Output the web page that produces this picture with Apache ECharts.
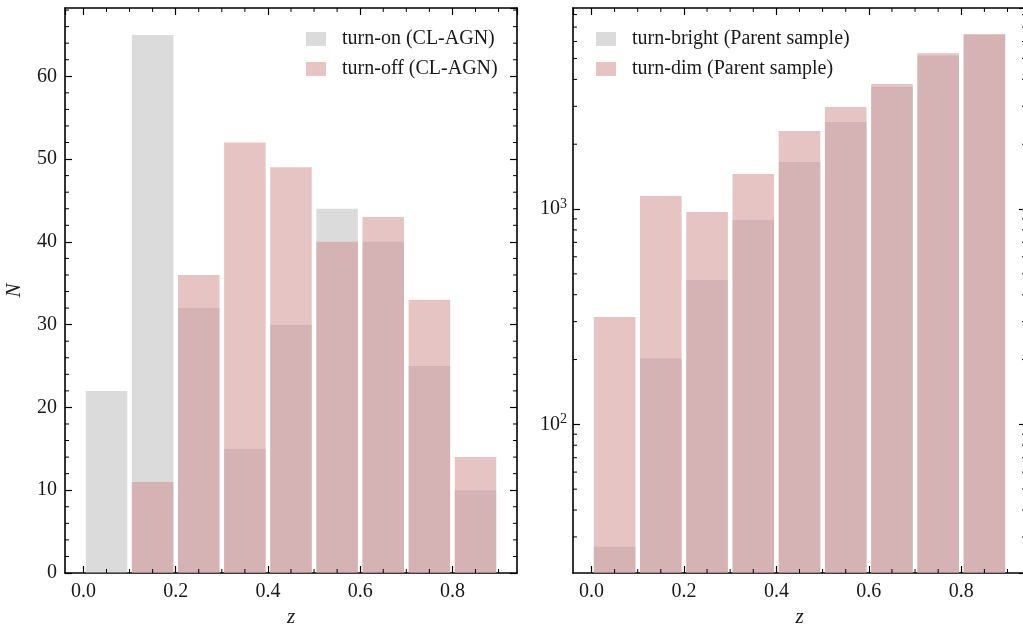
<!DOCTYPE html>
<html><head><meta charset="utf-8">
<script src="https://cdn.jsdelivr.net/npm/echarts@6/dist/echarts.min.js"></script>
<style>html,body{margin:0;padding:0;background:#fff}#c{width:1023px;height:626px}</style>
</head><body><div id="c"></div>
<script>
// ---- data ----
const zBinStart = [0.0, 0.1, 0.2, 0.3, 0.4, 0.5, 0.6, 0.7, 0.8];
const zBinWidth = 0.1;
const turnOnCL  = [22, 65, 32, 15, 30, 44, 40, 25, 10];
const turnOffCL = [0, 11, 36, 52, 49, 40, 43, 33, 14];
const turnBrightParent = [27, 203, 468, 889, 1652, 2535, 3700, 5150, 6430];
const turnDimParent    = [315, 1149, 968, 1454, 2303, 2978, 3807, 5286, 6503];
const xMinorTicks = [0.05,0.1,0.15,0.25,0.3,0.35,0.45,0.5,0.55,0.65,0.7,0.75,0.85,0.9];
const yMinorTicks = [2,4,6,8,12,14,16,18,22,24,26,28,32,34,36,38,42,44,46,48,52,54,56,58,62,64,66,68];
const logMinorTicks = [30,40,50,60,70,80,90,200,300,400,500,600,700,800,900,2000,3000,4000,5000,6000,7000,8000];
const xTickLabels = ['0.0','0.2','0.4','0.6','0.8'];
const names = ['turn-on (CL-AGN)','turn-off (CL-AGN)','turn-bright (Parent sample)','turn-dim (Parent sample)'];

const FONT = 'Liberation Serif';
const GRAY = '#b9b7b9', PINK = '#cd8989';
const RWIDTH = 0.9;

function hist(starts, vals){ return starts.map((s,i)=>[s, s+zBinWidth, vals[i]]); }

function barRender(params, api){
  const x0 = api.value(0), x1 = api.value(1), v = api.value(2);
  if (!(v > 0)) return null;
  const pad = (x1 - x0) * (1 - RWIDTH) / 2;
  const a = api.coord([x0 + pad, v]);
  const b = api.coord([x1 - pad, v]);
  const cs = params.coordSys;
  const bottom = cs.y + cs.height;
  return {type:'rect', shape:{x:a[0], y:a[1], width:b[0]-a[0], height:bottom-a[1]},
          style:{fill: api.visual('color'), opacity: 0.5}};
}

const MINOR_LEN = 4;
function makeXMinor(yRef){
  return function(params, api){
    const cs = params.coordSys;
    const x = api.coord([api.value(0), yRef])[0];
    if (x < cs.x || x > cs.x + cs.width) return null;
    return {type:'group', children:[
      {type:'line', shape:{x1:x, y1:cs.y+cs.height, x2:x, y2:cs.y+cs.height-MINOR_LEN}, style:{stroke:'#000', lineWidth:1}},
      {type:'line', shape:{x1:x, y1:cs.y, x2:x, y2:cs.y+MINOR_LEN}, style:{stroke:'#000', lineWidth:1}}
    ]};
  };
}
function yMinorRender(params, api){
  const cs = params.coordSys;
  const y = api.coord([0.4, api.value(0)])[1];
  if (y < cs.y || y > cs.y + cs.height) return null;
  return {type:'group', children:[
    {type:'line', shape:{x1:cs.x, y1:y, x2:cs.x+MINOR_LEN, y2:y}, style:{stroke:'#000', lineWidth:1}},
    {type:'line', shape:{x1:cs.x+cs.width, y1:y, x2:cs.x+cs.width-MINOR_LEN, y2:y}, style:{stroke:'#000', lineWidth:1}}
  ]};
}

const axLine = {show:true, onZero:false, lineStyle:{color:'#000', width:1.6}};
const tick = {show:true, inside:true, length:7, lineStyle:{color:'#000', width:1.2}};
const lbl = {color:'#1a1a1a', fontFamily:FONT, fontSize:20};
const nameStyle = {fontFamily:FONT, fontSize:21, fontStyle:'italic', color:'#1a1a1a'};

function xAx(grid, pos){
  return {type:'value', gridIndex:grid, position:pos, min:-0.04, max:0.94, splitNumber:5,
    axisLine:axLine, axisTick:tick, minorTick:{show:false}, splitLine:{show:false},
    axisLabel: pos==='bottom' ? Object.assign({margin:9, showMinLabel:false, showMaxLabel:false,
      formatter: v => { const i = xTickLabels.indexOf((+v).toFixed(1)); return (Math.abs(v*5-Math.round(v*5))<1e-6 && i>=0) ? xTickLabels[i] : ''; }}, lbl) : {show:false},
    name: pos==='bottom' ? 'z' : '', nameLocation:'middle', nameGap:33, nameTextStyle:nameStyle};
}
function yLin(pos){
  return {type:'value', gridIndex:0, position:pos, min:0, max:68.25, interval:10,
    axisLine:axLine, axisTick:tick, minorTick:{show:false}, splitLine:{show:false},
    axisLabel: pos==='left' ? Object.assign({margin:8, showMaxLabel:false}, lbl) : {show:false},
    name: pos==='left' ? 'N' : '', nameLocation:'middle', nameGap:40, nameRotate:90, nameTextStyle:nameStyle};
}
function yLog(pos){
  return {type:'log', logBase:10, gridIndex:1, position:pos, min:20.4, max:8583,
    axisLine:axLine, axisTick:tick, splitLine:{show:false}, minorTick:{show:false},
    axisLabel: pos==='left' ? {margin:6, showMinLabel:false, showMaxLabel:false,
      formatter: v => { const e = Math.log10(v); return Math.abs(e-Math.round(e))<1e-6 ? '{b|10}{s|'+Math.round(e)+'}' : ''; },
      rich:{b:{fontFamily:FONT, fontSize:20, color:'#1a1a1a'}, s:{fontFamily:FONT, fontSize:14, color:'#1a1a1a', padding:[0,0,10,0]}}} : {show:false}};
}

const legendText = {fontFamily:FONT, fontSize:20, color:'#1a1a1a', lineHeight:20, padding:[0,0,0,11]};
const chart = echarts.init(document.getElementById('c'), null, {renderer:'canvas'});
chart.setOption({
  animation:false,
  backgroundColor:'#fff',
  grid:[{left:65, top:8, width:452, height:565, outerBoundsMode:'none', containLabel:false},
        {left:573, top:8, width:453, height:565, outerBoundsMode:'none', containLabel:false}],
  xAxis:[xAx(0,'bottom'), xAx(0,'top'), xAx(1,'bottom'), xAx(1,'top')],
  yAxis:[yLin('left'), yLin('right'), yLog('left'), yLog('right')],
  legend:[
    {orient:'vertical', left:301, top:24, itemWidth:20, itemHeight:14, itemGap:10, icon:'rect',
     data:[{name:names[0], itemStyle:{color:'#dcdbdc', opacity:1}}, {name:names[1], itemStyle:{color:'#e6c4c4', opacity:1}}],
     textStyle:legendText},
    {orient:'vertical', left:591, top:24, itemWidth:20, itemHeight:14, itemGap:10, icon:'rect',
     data:[{name:names[2], itemStyle:{color:'#dcdbdc', opacity:1}}, {name:names[3], itemStyle:{color:'#e6c4c4', opacity:1}}],
     textStyle:legendText}
  ],
  series:[
    {name:names[0], type:'custom', xAxisIndex:0, yAxisIndex:0, itemStyle:{color:GRAY}, renderItem:barRender, data:hist(zBinStart, turnOnCL), clip:true, encode:{x:[0,1], y:2}},
    {name:names[1], type:'custom', xAxisIndex:0, yAxisIndex:0, itemStyle:{color:PINK}, renderItem:barRender, data:hist(zBinStart, turnOffCL), clip:true, encode:{x:[0,1], y:2}},
    {name:names[2], type:'custom', xAxisIndex:2, yAxisIndex:2, itemStyle:{color:GRAY}, renderItem:barRender, data:hist(zBinStart, turnBrightParent), clip:true, encode:{x:[0,1], y:2}},
    {name:names[3], type:'custom', xAxisIndex:2, yAxisIndex:2, itemStyle:{color:PINK}, renderItem:barRender, data:hist(zBinStart, turnDimParent), clip:true, encode:{x:[0,1], y:2}},
    {name:'xminor0', type:'custom', xAxisIndex:0, yAxisIndex:0, renderItem:makeXMinor(10), data:xMinorTicks.map(v=>[v]), encode:{x:0}, silent:true, z:5},
    {name:'xminor1', type:'custom', xAxisIndex:2, yAxisIndex:2, renderItem:makeXMinor(100), data:xMinorTicks.map(v=>[v]), encode:{x:0}, silent:true, z:5},
    {name:'yminor0', type:'custom', xAxisIndex:0, yAxisIndex:0, renderItem:yMinorRender, data:yMinorTicks.map(v=>[v]), encode:{y:0}, silent:true, z:5},
    {name:'yminor1', type:'custom', xAxisIndex:2, yAxisIndex:2, renderItem:yMinorRender, data:logMinorTicks.map(v=>[v]), encode:{y:0}, silent:true, z:5}
  ]
});
</script>
</body></html>
